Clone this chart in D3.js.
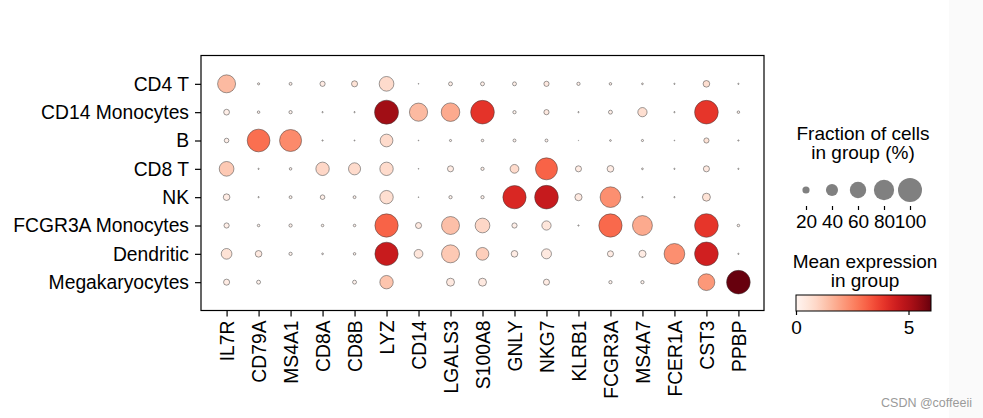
<!DOCTYPE html>
<html>
<head>
<meta charset="utf-8">
<script src="https://cdn.jsdelivr.net/npm/d3@7/dist/d3.min.js"></script>
<style>
  html, body { margin: 0; padding: 0; background: #fff; }
  svg { display: block; }
  text { font-family: "Liberation Sans", Arial, sans-serif; fill: #000; }
</style>
</head>
<body>
<svg id="chart" width="983" height="418"></svg>
<script>
const genes = ["IL7R","CD79A","MS4A1","CD8A","CD8B","LYZ","CD14","LGALS3","S100A8","GNLY","NKG7","KLRB1","FCGR3A","MS4A7","FCER1A","CST3","PPBP"];
const groups = ["CD4 T","CD14 Monocytes","B","CD8 T","NK","FCGR3A Monocytes","Dendritic","Megakaryocytes"];

// fraction of cells in group (0..1), one row per group, columns follow genes
const fracCD4T     = [0.68,0.04,0.06,0.13,0.16,0.52,0.01,0.09,0.09,0.09,0.13,0.07,0.05,0.03,0.02,0.18,0.02];
const fracCD14Mono = [0.15,0.05,0.07,0.02,0.02,1.00,0.69,0.71,0.98,0.07,0.13,0.02,0.09,0.28,0.02,0.98,0.05];
const fracB        = [0.11,0.93,0.89,0.02,0.015,0.43,0.01,0.04,0.05,0.06,0.06,0.005,0.03,0.04,0.01,0.13,0.02];
const fracCD8T     = [0.52,0.02,0.05,0.46,0.40,0.46,0.01,0.16,0.07,0.26,0.89,0.16,0.18,0.03,0.02,0.16,0.02];
const fracNK       = [0.18,0.02,0.06,0.11,0.06,0.46,0.01,0.07,0.07,0.96,0.98,0.20,0.82,0.02,0.02,0.23,0.00];
const fracFCGR3A   = [0.13,0.05,0.07,0.05,0.05,0.96,0.16,0.68,0.52,0.13,0.28,0.02,0.96,0.78,0.00,0.98,0.05];
const fracDendr    = [0.34,0.18,0.07,0.03,0.05,0.96,0.26,0.68,0.43,0.18,0.31,0.00,0.16,0.20,0.82,0.98,0.02];
const fracMega     = [0.16,0.09,0.00,0.00,0.09,0.46,0.00,0.23,0.23,0.00,0.16,0.00,0.07,0.07,0.00,0.62,0.98];

// mean expression in group
const exprCD4T     = [1.5,0.2,0.2,0.3,0.6,0.8,0.1,0.2,0.2,0.2,0.4,0.2,0.2,0.2,0.1,0.7,0.1];
const exprCD14Mono = [0.2,0.1,0.1,0.1,0.1,5.25,1.5,1.8,3.95,0.1,0.4,0.1,0.2,0.7,0.1,3.9,0.1];
const exprB        = [0.2,2.9,2.4,0.1,0.1,0.8,0.1,0.1,0.1,0.1,0.1,0.1,0.1,0.1,0.1,0.6,0.1];
const exprCD8T     = [1.2,0.1,0.1,0.9,0.8,0.8,0.1,0.3,0.2,0.8,3.1,0.3,0.3,0.1,0.1,0.4,0.1];
const exprNK       = [0.3,0.1,0.1,0.2,0.1,0.7,0.1,0.1,0.1,4.2,4.6,0.4,2.3,0.1,0.1,0.6,0.0];
const exprFCGR3A   = [0.2,0.1,0.1,0.1,0.1,3.1,0.4,1.4,0.9,0.2,0.5,0.1,3.0,1.8,0.0,3.9,0.1];
const exprDendr    = [0.6,0.4,0.1,0.1,0.1,4.55,0.5,1.2,1.1,0.3,0.4,0.0,0.3,0.3,2.3,4.4,0.1];
const exprMega     = [0.3,0.1,0.0,0.0,0.1,1.3,0.0,0.4,0.4,0.0,0.3,0.0,0.1,0.1,0.0,2.15,6.0];

const fractions = [fracCD4T, fracCD14Mono, fracB, fracCD8T, fracNK, fracFCGR3A, fracDendr, fracMega];
const expressions = [exprCD4T, exprCD14Mono, exprB, exprCD8T, exprNK, exprFCGR3A, exprDendr, exprMega];

const sizeLegendValues = [20, 40, 60, 80, 100];
const colorTicks = [0, 5];
const colorMax = 6;

const FONT = "Liberation Sans, Arial, sans-serif";
const FS = "19.3px";
const LFS = "19px";

const svg = d3.select("#chart");

// light strip on the right edge of the screenshot
svg.append("rect").attr("x", 949).attr("y", 0).attr("width", 34).attr("height", 418).attr("fill", "#fafafa");

const plot = { left: 201, right: 764, top: 55.5, bottom: 310.5 };

const x = d3.scalePoint().domain(genes).range([plot.left, plot.right]).padding(0.8);
const y = d3.scalePoint().domain(groups).range([plot.top, plot.bottom]).padding(1);
const r = d3.scalePow().exponent(0.75).domain([0, 1]).range([0, 12]);
const color = d3.scaleSequential(d3.interpolateReds).domain([0, colorMax]);

const cells = [];
groups.forEach((g, i) => genes.forEach((ge, j) => {
  cells.push({ group: g, gene: ge, frac: fractions[i][j], expr: expressions[i][j] });
}));

svg.append("g").selectAll("circle")
  .data(cells.filter(d => d.frac > 0))
  .join("circle")
  .attr("cx", d => x(d.gene))
  .attr("cy", d => y(d.group))
  .attr("r", d => r(d.frac))
  .attr("fill", d => color(d.expr))
  .attr("stroke", "#3a3a3a")
  .attr("stroke-width", 0.5);

// frame
svg.append("rect")
  .attr("x", plot.left).attr("y", plot.top)
  .attr("width", plot.right - plot.left).attr("height", plot.bottom - plot.top)
  .attr("fill", "none").attr("stroke", "#000").attr("stroke-width", 1.2);

// y axis
const yAxis = svg.append("g").attr("transform", `translate(${plot.left},0)`)
  .call(d3.axisLeft(y).tickSize(6).tickPadding(6));
yAxis.select(".domain").remove();
yAxis.selectAll("line").attr("stroke", "#000").attr("stroke-width", 1.2);
yAxis.selectAll("text").style("font-size", FS).style("font-family", FONT).attr("fill", "#000");

// x axis
const xAxis = svg.append("g").attr("transform", `translate(0,${plot.bottom})`)
  .call(d3.axisBottom(x).tickSize(6).tickPadding(6));
xAxis.select(".domain").remove();
xAxis.selectAll("line").attr("stroke", "#000").attr("stroke-width", 1.2);
xAxis.selectAll("text")
  .style("font-size", FS).style("font-family", FONT).attr("fill", "#000")
  .attr("transform", "rotate(-90)")
  .attr("text-anchor", "end")
  .attr("x", -10).attr("y", 0).attr("dy", "0.35em");

// size legend
const lg = svg.append("g");
lg.append("text").attr("x", 863).attr("y", 140).attr("text-anchor", "middle").style("font-size", LFS).text("Fraction of cells");
lg.append("text").attr("x", 863).attr("y", 159).attr("text-anchor", "middle").style("font-size", LFS).text("in group (%)");

const sx = d3.scalePoint().domain(sizeLegendValues).range([806, 910]);
lg.selectAll("circle.size").data(sizeLegendValues).join("circle")
  .attr("class", "size")
  .attr("cx", d => sx(d)).attr("cy", 190)
  .attr("r", d => r(d / 100))
  .attr("fill", "#808080");
const sAxis = lg.append("g").attr("transform", "translate(0,206)")
  .call(d3.axisBottom(sx).tickSize(4).tickPadding(5));
sAxis.select(".domain").remove();
sAxis.selectAll("line").attr("stroke", "#000").attr("stroke-width", 1.2);
sAxis.selectAll("text").style("font-size", LFS).style("font-family", FONT).attr("fill", "#000");

// color legend
lg.append("text").attr("x", 865).attr("y", 268).attr("text-anchor", "middle").style("font-size", LFS).text("Mean expression");
lg.append("text").attr("x", 865).attr("y", 287).attr("text-anchor", "middle").style("font-size", LFS).text("in group");

const cbX = d3.scaleLinear().domain([0, colorMax]).range([796, 931]);
const grad = svg.append("defs").append("linearGradient").attr("id", "reds").attr("x1", "0%").attr("x2", "100%");
d3.range(0, 1.0001, 0.05).forEach(t => {
  grad.append("stop").attr("offset", (t * 100) + "%").attr("stop-color", d3.interpolateReds(t));
});
lg.append("rect").attr("x", cbX(0)).attr("y", 295).attr("width", cbX(colorMax) - cbX(0)).attr("height", 16)
  .attr("fill", "url(#reds)").attr("stroke", "#000").attr("stroke-width", 1);
const cAxis = lg.append("g").attr("transform", "translate(0,311)")
  .call(d3.axisBottom(cbX).tickValues(colorTicks).tickFormat(d3.format("d")).tickSize(4).tickPadding(6));
cAxis.select(".domain").remove();
cAxis.selectAll("line").attr("stroke", "#000").attr("stroke-width", 1.2);
cAxis.selectAll("text").style("font-size", LFS).style("font-family", FONT).attr("fill", "#000");

// watermark
svg.append("text").attr("x", 972).attr("y", 407).attr("text-anchor", "end")
  .style("font-size", "12.5px").style("fill", "#9a9a9a").text("CSDN @coffeeii");
</script>
</body>
</html>
